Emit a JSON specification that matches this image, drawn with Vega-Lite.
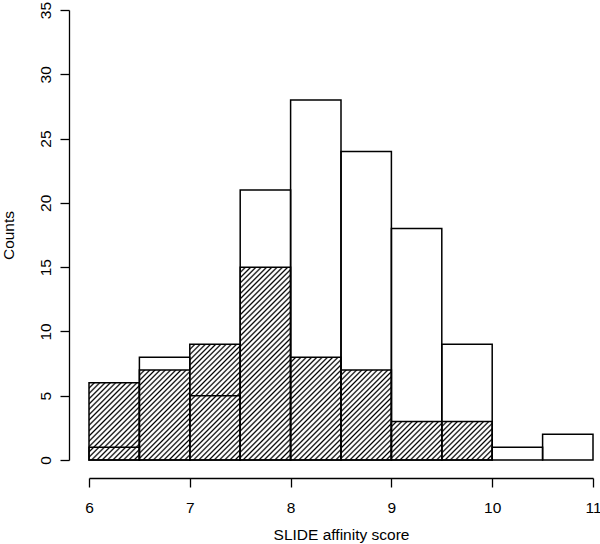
{
"$schema": "https://vega.github.io/schema/vega-lite/v6.json",
"width": 504,
"height": 450,
"autosize": {"type": "none"},
"padding": {"left": 89, "top": 10, "right": 7, "bottom": 84},
"background": "white",
"config": {"view": {"stroke": null}, "font": "Liberation Sans"},
"data": {"values": [
{"series": "open", "start": 6.0, "end": 6.5, "count": 1},
{"series": "open", "start": 6.5, "end": 7.0, "count": 8},
{"series": "open", "start": 7.0, "end": 7.5, "count": 5},
{"series": "open", "start": 7.5, "end": 8.0, "count": 21},
{"series": "open", "start": 8.0, "end": 8.5, "count": 28},
{"series": "open", "start": 8.5, "end": 9.0, "count": 24},
{"series": "open", "start": 9.0, "end": 9.5, "count": 18},
{"series": "open", "start": 9.5, "end": 10.0, "count": 9},
{"series": "open", "start": 10.0, "end": 10.5, "count": 1},
{"series": "open", "start": 10.5, "end": 11.0, "count": 2},
{"series": "hatched", "start": 6.0, "end": 6.5, "count": 6},
{"series": "hatched", "start": 6.5, "end": 7.0, "count": 7},
{"series": "hatched", "start": 7.0, "end": 7.5, "count": 9},
{"series": "hatched", "start": 7.5, "end": 8.0, "count": 15},
{"series": "hatched", "start": 8.0, "end": 8.5, "count": 8},
{"series": "hatched", "start": 8.5, "end": 9.0, "count": 7},
{"series": "hatched", "start": 9.0, "end": 9.5, "count": 3},
{"series": "hatched", "start": 9.5, "end": 10.0, "count": 3},
{"series": "hatched", "start": 10.0, "end": 10.5, "count": 0},
{"series": "hatched", "start": 10.5, "end": 11.0, "count": 0}
]},
"encoding": {
"x": {"field": "start", "type": "quantitative", "scale": {"domain": [6, 11], "nice": false, "zero": false},
 "axis": {"values": [6, 7, 8, 9, 10, 11], "format": "d", "offset": 18, "grid": false, "tickSize": 9, "labelPadding": 13, "labelFontSize": 15.5, "labelColor": "black", "labelFont": "Liberation Sans", "domainColor": "black", "tickColor": "black", "domainWidth": 1.3, "tickWidth": 1.3, "title": "SLIDE affinity score", "titleFontSize": 15.5, "titleFontWeight": "normal", "titleColor": "black", "titleFont": "Liberation Sans", "titlePadding": 12, "labelFlush": false, "labelOverlap": false}},
"x2": {"field": "end"},
"y": {"field": "count", "type": "quantitative", "scale": {"domain": [0, 35], "nice": false},
 "axis": {"values": [0, 5, 10, 15, 20, 25, 30, 35], "offset": 20, "grid": false, "tickSize": 9, "labelPadding": 10, "labelAngle": -90, "labelAlign": "center", "labelBaseline": "alphabetic", "labelFontSize": 15.5, "labelColor": "black", "labelFont": "Liberation Sans", "domainColor": "black", "tickColor": "black", "domainWidth": 1.3, "tickWidth": 1.3, "title": "Counts", "titleFontSize": 15.5, "titleFontWeight": "normal", "titleColor": "black", "titleFont": "Liberation Sans", "titlePadding": 22, "labelFlush": false, "labelOverlap": false}},
"y2": {"datum": 0}
},
"layer": [
{
"transform": [{"filter": "datum.series == 'hatched' && datum.count > 0"}],
"mark": {"type": "bar", "stroke": "black", "strokeWidth": 1.5},
"encoding": {
"fill": {"condition": [
{"test": "datum.count == 3", "value": {"gradient": "linear", "x1": 0, "y1": 0, "x2": 1.1133, "y2": 0.852, "stops": [
{"offset":0,"color":"#000"},{"offset":0.0194,"color":"#fff"},{"offset":0.0394,"color":"#fff"},{"offset":0.0588,"color":"#000"},{"offset":0.0782,"color":"#fff"},{"offset":0.0982,"color":"#fff"},{"offset":0.1176,"color":"#000"},{"offset":0.1371,"color":"#fff"},{"offset":0.1571,"color":"#fff"},{"offset":0.1765,"color":"#000"},{"offset":0.1959,"color":"#fff"},{"offset":0.2159,"color":"#fff"},{"offset":0.2353,"color":"#000"},{"offset":0.2547,"color":"#fff"},{"offset":0.2747,"color":"#fff"},{"offset":0.2941,"color":"#000"},{"offset":0.3135,"color":"#fff"},{"offset":0.3335,"color":"#fff"},{"offset":0.3529,"color":"#000"},{"offset":0.3724,"color":"#fff"},{"offset":0.3924,"color":"#fff"},{"offset":0.4118,"color":"#000"},{"offset":0.4312,"color":"#fff"},{"offset":0.4512,"color":"#fff"},{"offset":0.4706,"color":"#000"},{"offset":0.49,"color":"#fff"},{"offset":0.51,"color":"#fff"},{"offset":0.5294,"color":"#000"},{"offset":0.5488,"color":"#fff"},{"offset":0.5688,"color":"#fff"},{"offset":0.5882,"color":"#000"},{"offset":0.6076,"color":"#fff"},{"offset":0.6276,"color":"#fff"},{"offset":0.6471,"color":"#000"},{"offset":0.6665,"color":"#fff"},{"offset":0.6865,"color":"#fff"},{"offset":0.7059,"color":"#000"},{"offset":0.7253,"color":"#fff"},{"offset":0.7453,"color":"#fff"},{"offset":0.7647,"color":"#000"},{"offset":0.7841,"color":"#fff"},{"offset":0.8041,"color":"#fff"},{"offset":0.8235,"color":"#000"},{"offset":0.8429,"color":"#fff"},{"offset":0.8629,"color":"#fff"},{"offset":0.8824,"color":"#000"},{"offset":0.9018,"color":"#fff"},{"offset":0.9218,"color":"#fff"},{"offset":0.9412,"color":"#000"},{"offset":0.9606,"color":"#fff"},{"offset":0.9806,"color":"#fff"},{"offset":1,"color":"#000"}]}},
{"test": "datum.count == 6", "value": {"gradient": "linear", "x1": 0, "y1": 0, "x2": 0.757, "y2": 1.1587, "stops": [
{"offset":0,"color":"#000"},{"offset":0.0138,"color":"#fff"},{"offset":0.0279,"color":"#fff"},{"offset":0.0417,"color":"#000"},{"offset":0.0554,"color":"#fff"},{"offset":0.0696,"color":"#fff"},{"offset":0.0833,"color":"#000"},{"offset":0.0971,"color":"#fff"},{"offset":0.1113,"color":"#fff"},{"offset":0.125,"color":"#000"},{"offset":0.1388,"color":"#fff"},{"offset":0.1529,"color":"#fff"},{"offset":0.1667,"color":"#000"},{"offset":0.1804,"color":"#fff"},{"offset":0.1946,"color":"#fff"},{"offset":0.2083,"color":"#000"},{"offset":0.2221,"color":"#fff"},{"offset":0.2363,"color":"#fff"},{"offset":0.25,"color":"#000"},{"offset":0.2638,"color":"#fff"},{"offset":0.2779,"color":"#fff"},{"offset":0.2917,"color":"#000"},{"offset":0.3054,"color":"#fff"},{"offset":0.3196,"color":"#fff"},{"offset":0.3333,"color":"#000"},{"offset":0.3471,"color":"#fff"},{"offset":0.3613,"color":"#fff"},{"offset":0.375,"color":"#000"},{"offset":0.3888,"color":"#fff"},{"offset":0.4029,"color":"#fff"},{"offset":0.4167,"color":"#000"},{"offset":0.4304,"color":"#fff"},{"offset":0.4446,"color":"#fff"},{"offset":0.4583,"color":"#000"},{"offset":0.4721,"color":"#fff"},{"offset":0.4863,"color":"#fff"},{"offset":0.5,"color":"#000"},{"offset":0.5138,"color":"#fff"},{"offset":0.5279,"color":"#fff"},{"offset":0.5417,"color":"#000"},{"offset":0.5554,"color":"#fff"},{"offset":0.5696,"color":"#fff"},{"offset":0.5833,"color":"#000"},{"offset":0.5971,"color":"#fff"},{"offset":0.6113,"color":"#fff"},{"offset":0.625,"color":"#000"},{"offset":0.6388,"color":"#fff"},{"offset":0.6529,"color":"#fff"},{"offset":0.6667,"color":"#000"},{"offset":0.6804,"color":"#fff"},{"offset":0.6946,"color":"#fff"},{"offset":0.7083,"color":"#000"},{"offset":0.7221,"color":"#fff"},{"offset":0.7363,"color":"#fff"},{"offset":0.75,"color":"#000"},{"offset":0.7638,"color":"#fff"},{"offset":0.7779,"color":"#fff"},{"offset":0.7917,"color":"#000"},{"offset":0.8054,"color":"#fff"},{"offset":0.8196,"color":"#fff"},{"offset":0.8333,"color":"#000"},{"offset":0.8471,"color":"#fff"},{"offset":0.8613,"color":"#fff"},{"offset":0.875,"color":"#000"},{"offset":0.8888,"color":"#fff"},{"offset":0.9029,"color":"#fff"},{"offset":0.9167,"color":"#000"},{"offset":0.9304,"color":"#fff"},{"offset":0.9446,"color":"#fff"},{"offset":0.9583,"color":"#000"},{"offset":0.9721,"color":"#fff"},{"offset":0.9863,"color":"#fff"},{"offset":1,"color":"#000"}]}},
{"test": "datum.count == 7", "value": {"gradient": "linear", "x1": 0, "y1": 0, "x2": 0.665, "y2": 1.1876, "stops": [
{"offset":0,"color":"#000"},{"offset":0.0122,"color":"#fff"},{"offset":0.0248,"color":"#fff"},{"offset":0.037,"color":"#000"},{"offset":0.0493,"color":"#fff"},{"offset":0.0619,"color":"#fff"},{"offset":0.0741,"color":"#000"},{"offset":0.0863,"color":"#fff"},{"offset":0.0989,"color":"#fff"},{"offset":0.1111,"color":"#000"},{"offset":0.1233,"color":"#fff"},{"offset":0.1359,"color":"#fff"},{"offset":0.1481,"color":"#000"},{"offset":0.1604,"color":"#fff"},{"offset":0.173,"color":"#fff"},{"offset":0.1852,"color":"#000"},{"offset":0.1974,"color":"#fff"},{"offset":0.21,"color":"#fff"},{"offset":0.2222,"color":"#000"},{"offset":0.2344,"color":"#fff"},{"offset":0.247,"color":"#fff"},{"offset":0.2593,"color":"#000"},{"offset":0.2715,"color":"#fff"},{"offset":0.2841,"color":"#fff"},{"offset":0.2963,"color":"#000"},{"offset":0.3085,"color":"#fff"},{"offset":0.3211,"color":"#fff"},{"offset":0.3333,"color":"#000"},{"offset":0.3456,"color":"#fff"},{"offset":0.3581,"color":"#fff"},{"offset":0.3704,"color":"#000"},{"offset":0.3826,"color":"#fff"},{"offset":0.3952,"color":"#fff"},{"offset":0.4074,"color":"#000"},{"offset":0.4196,"color":"#fff"},{"offset":0.4322,"color":"#fff"},{"offset":0.4444,"color":"#000"},{"offset":0.4567,"color":"#fff"},{"offset":0.4693,"color":"#fff"},{"offset":0.4815,"color":"#000"},{"offset":0.4937,"color":"#fff"},{"offset":0.5063,"color":"#fff"},{"offset":0.5185,"color":"#000"},{"offset":0.5307,"color":"#fff"},{"offset":0.5433,"color":"#fff"},{"offset":0.5556,"color":"#000"},{"offset":0.5678,"color":"#fff"},{"offset":0.5804,"color":"#fff"},{"offset":0.5926,"color":"#000"},{"offset":0.6048,"color":"#fff"},{"offset":0.6174,"color":"#fff"},{"offset":0.6296,"color":"#000"},{"offset":0.6419,"color":"#fff"},{"offset":0.6544,"color":"#fff"},{"offset":0.6667,"color":"#000"},{"offset":0.6789,"color":"#fff"},{"offset":0.6915,"color":"#fff"},{"offset":0.7037,"color":"#000"},{"offset":0.7159,"color":"#fff"},{"offset":0.7285,"color":"#fff"},{"offset":0.7407,"color":"#000"},{"offset":0.753,"color":"#fff"},{"offset":0.7656,"color":"#fff"},{"offset":0.7778,"color":"#000"},{"offset":0.79,"color":"#fff"},{"offset":0.8026,"color":"#fff"},{"offset":0.8148,"color":"#000"},{"offset":0.827,"color":"#fff"},{"offset":0.8396,"color":"#fff"},{"offset":0.8519,"color":"#000"},{"offset":0.8641,"color":"#fff"},{"offset":0.8767,"color":"#fff"},{"offset":0.8889,"color":"#000"},{"offset":0.9011,"color":"#fff"},{"offset":0.9137,"color":"#fff"},{"offset":0.9259,"color":"#000"},{"offset":0.9381,"color":"#fff"},{"offset":0.9507,"color":"#fff"},{"offset":0.963,"color":"#000"},{"offset":0.9752,"color":"#fff"},{"offset":0.9878,"color":"#fff"},{"offset":1,"color":"#000"}]}},
{"test": "datum.count == 8", "value": {"gradient": "linear", "x1": 0, "y1": 0, "x2": 0.5887, "y2": 1.2015, "stops": [
{"offset":0,"color":"#000"},{"offset":0.0114,"color":"#fff"},{"offset":0.0231,"color":"#fff"},{"offset":0.0345,"color":"#000"},{"offset":0.0459,"color":"#fff"},{"offset":0.0576,"color":"#fff"},{"offset":0.069,"color":"#000"},{"offset":0.0803,"color":"#fff"},{"offset":0.0921,"color":"#fff"},{"offset":0.1034,"color":"#000"},{"offset":0.1148,"color":"#fff"},{"offset":0.1266,"color":"#fff"},{"offset":0.1379,"color":"#000"},{"offset":0.1493,"color":"#fff"},{"offset":0.161,"color":"#fff"},{"offset":0.1724,"color":"#000"},{"offset":0.1838,"color":"#fff"},{"offset":0.1955,"color":"#fff"},{"offset":0.2069,"color":"#000"},{"offset":0.2183,"color":"#fff"},{"offset":0.23,"color":"#fff"},{"offset":0.2414,"color":"#000"},{"offset":0.2528,"color":"#fff"},{"offset":0.2645,"color":"#fff"},{"offset":0.2759,"color":"#000"},{"offset":0.2872,"color":"#fff"},{"offset":0.299,"color":"#fff"},{"offset":0.3103,"color":"#000"},{"offset":0.3217,"color":"#fff"},{"offset":0.3334,"color":"#fff"},{"offset":0.3448,"color":"#000"},{"offset":0.3562,"color":"#fff"},{"offset":0.3679,"color":"#fff"},{"offset":0.3793,"color":"#000"},{"offset":0.3907,"color":"#fff"},{"offset":0.4024,"color":"#fff"},{"offset":0.4138,"color":"#000"},{"offset":0.4252,"color":"#fff"},{"offset":0.4369,"color":"#fff"},{"offset":0.4483,"color":"#000"},{"offset":0.4597,"color":"#fff"},{"offset":0.4714,"color":"#fff"},{"offset":0.4828,"color":"#000"},{"offset":0.4941,"color":"#fff"},{"offset":0.5059,"color":"#fff"},{"offset":0.5172,"color":"#000"},{"offset":0.5286,"color":"#fff"},{"offset":0.5403,"color":"#fff"},{"offset":0.5517,"color":"#000"},{"offset":0.5631,"color":"#fff"},{"offset":0.5748,"color":"#fff"},{"offset":0.5862,"color":"#000"},{"offset":0.5976,"color":"#fff"},{"offset":0.6093,"color":"#fff"},{"offset":0.6207,"color":"#000"},{"offset":0.6321,"color":"#fff"},{"offset":0.6438,"color":"#fff"},{"offset":0.6552,"color":"#000"},{"offset":0.6666,"color":"#fff"},{"offset":0.6783,"color":"#fff"},{"offset":0.6897,"color":"#000"},{"offset":0.701,"color":"#fff"},{"offset":0.7128,"color":"#fff"},{"offset":0.7241,"color":"#000"},{"offset":0.7355,"color":"#fff"},{"offset":0.7472,"color":"#fff"},{"offset":0.7586,"color":"#000"},{"offset":0.77,"color":"#fff"},{"offset":0.7817,"color":"#fff"},{"offset":0.7931,"color":"#000"},{"offset":0.8045,"color":"#fff"},{"offset":0.8162,"color":"#fff"},{"offset":0.8276,"color":"#000"},{"offset":0.839,"color":"#fff"},{"offset":0.8507,"color":"#fff"},{"offset":0.8621,"color":"#000"},{"offset":0.8734,"color":"#fff"},{"offset":0.8852,"color":"#fff"},{"offset":0.8966,"color":"#000"},{"offset":0.9079,"color":"#fff"},{"offset":0.9197,"color":"#fff"},{"offset":0.931,"color":"#000"},{"offset":0.9424,"color":"#fff"},{"offset":0.9541,"color":"#fff"},{"offset":0.9655,"color":"#000"},{"offset":0.9769,"color":"#fff"},{"offset":0.9886,"color":"#fff"},{"offset":1,"color":"#000"}]}},
{"test": "datum.count == 9", "value": {"gradient": "linear", "x1": 0, "y1": 0, "x2": 0.5256, "y2": 1.2066, "stops": [
{"offset":0,"color":"#000"},{"offset":0.0103,"color":"#fff"},{"offset":0.0209,"color":"#fff"},{"offset":0.0313,"color":"#000"},{"offset":0.0416,"color":"#fff"},{"offset":0.0522,"color":"#fff"},{"offset":0.0625,"color":"#000"},{"offset":0.0728,"color":"#fff"},{"offset":0.0834,"color":"#fff"},{"offset":0.0938,"color":"#000"},{"offset":0.1041,"color":"#fff"},{"offset":0.1147,"color":"#fff"},{"offset":0.125,"color":"#000"},{"offset":0.1353,"color":"#fff"},{"offset":0.1459,"color":"#fff"},{"offset":0.1563,"color":"#000"},{"offset":0.1666,"color":"#fff"},{"offset":0.1772,"color":"#fff"},{"offset":0.1875,"color":"#000"},{"offset":0.1978,"color":"#fff"},{"offset":0.2084,"color":"#fff"},{"offset":0.2188,"color":"#000"},{"offset":0.2291,"color":"#fff"},{"offset":0.2397,"color":"#fff"},{"offset":0.25,"color":"#000"},{"offset":0.2603,"color":"#fff"},{"offset":0.2709,"color":"#fff"},{"offset":0.2813,"color":"#000"},{"offset":0.2916,"color":"#fff"},{"offset":0.3022,"color":"#fff"},{"offset":0.3125,"color":"#000"},{"offset":0.3228,"color":"#fff"},{"offset":0.3334,"color":"#fff"},{"offset":0.3438,"color":"#000"},{"offset":0.3541,"color":"#fff"},{"offset":0.3647,"color":"#fff"},{"offset":0.375,"color":"#000"},{"offset":0.3853,"color":"#fff"},{"offset":0.3959,"color":"#fff"},{"offset":0.4063,"color":"#000"},{"offset":0.4166,"color":"#fff"},{"offset":0.4272,"color":"#fff"},{"offset":0.4375,"color":"#000"},{"offset":0.4478,"color":"#fff"},{"offset":0.4584,"color":"#fff"},{"offset":0.4688,"color":"#000"},{"offset":0.4791,"color":"#fff"},{"offset":0.4897,"color":"#fff"},{"offset":0.5,"color":"#000"},{"offset":0.5103,"color":"#fff"},{"offset":0.5209,"color":"#fff"},{"offset":0.5313,"color":"#000"},{"offset":0.5416,"color":"#fff"},{"offset":0.5522,"color":"#fff"},{"offset":0.5625,"color":"#000"},{"offset":0.5728,"color":"#fff"},{"offset":0.5834,"color":"#fff"},{"offset":0.5938,"color":"#000"},{"offset":0.6041,"color":"#fff"},{"offset":0.6147,"color":"#fff"},{"offset":0.625,"color":"#000"},{"offset":0.6353,"color":"#fff"},{"offset":0.6459,"color":"#fff"},{"offset":0.6563,"color":"#000"},{"offset":0.6666,"color":"#fff"},{"offset":0.6772,"color":"#fff"},{"offset":0.6875,"color":"#000"},{"offset":0.6978,"color":"#fff"},{"offset":0.7084,"color":"#fff"},{"offset":0.7188,"color":"#000"},{"offset":0.7291,"color":"#fff"},{"offset":0.7397,"color":"#fff"},{"offset":0.75,"color":"#000"},{"offset":0.7603,"color":"#fff"},{"offset":0.7709,"color":"#fff"},{"offset":0.7813,"color":"#000"},{"offset":0.7916,"color":"#fff"},{"offset":0.8022,"color":"#fff"},{"offset":0.8125,"color":"#000"},{"offset":0.8228,"color":"#fff"},{"offset":0.8334,"color":"#fff"},{"offset":0.8438,"color":"#000"},{"offset":0.8541,"color":"#fff"},{"offset":0.8647,"color":"#fff"},{"offset":0.875,"color":"#000"},{"offset":0.8853,"color":"#fff"},{"offset":0.8959,"color":"#fff"},{"offset":0.9063,"color":"#000"},{"offset":0.9166,"color":"#fff"},{"offset":0.9272,"color":"#fff"},{"offset":0.9375,"color":"#000"},{"offset":0.9478,"color":"#fff"},{"offset":0.9584,"color":"#fff"},{"offset":0.9688,"color":"#000"},{"offset":0.9791,"color":"#fff"},{"offset":0.9897,"color":"#fff"},{"offset":1,"color":"#000"}]}},
{"test": "datum.count == 15", "value": {"gradient": "linear", "x1": 0, "y1": 0, "x2": 0.3086, "y2": 1.1807, "stops": [
{"offset":0,"color":"#000"},{"offset":0.0072,"color":"#fff"},{"offset":0.0146,"color":"#fff"},{"offset":0.0217,"color":"#000"},{"offset":0.0289,"color":"#fff"},{"offset":0.0363,"color":"#fff"},{"offset":0.0435,"color":"#000"},{"offset":0.0507,"color":"#fff"},{"offset":0.058,"color":"#fff"},{"offset":0.0652,"color":"#000"},{"offset":0.0724,"color":"#fff"},{"offset":0.0798,"color":"#fff"},{"offset":0.087,"color":"#000"},{"offset":0.0941,"color":"#fff"},{"offset":0.1015,"color":"#fff"},{"offset":0.1087,"color":"#000"},{"offset":0.1159,"color":"#fff"},{"offset":0.1233,"color":"#fff"},{"offset":0.1304,"color":"#000"},{"offset":0.1376,"color":"#fff"},{"offset":0.145,"color":"#fff"},{"offset":0.1522,"color":"#000"},{"offset":0.1593,"color":"#fff"},{"offset":0.1667,"color":"#fff"},{"offset":0.1739,"color":"#000"},{"offset":0.1811,"color":"#fff"},{"offset":0.1885,"color":"#fff"},{"offset":0.1957,"color":"#000"},{"offset":0.2028,"color":"#fff"},{"offset":0.2102,"color":"#fff"},{"offset":0.2174,"color":"#000"},{"offset":0.2246,"color":"#fff"},{"offset":0.232,"color":"#fff"},{"offset":0.2391,"color":"#000"},{"offset":0.2463,"color":"#fff"},{"offset":0.2537,"color":"#fff"},{"offset":0.2609,"color":"#000"},{"offset":0.268,"color":"#fff"},{"offset":0.2754,"color":"#fff"},{"offset":0.2826,"color":"#000"},{"offset":0.2898,"color":"#fff"},{"offset":0.2972,"color":"#fff"},{"offset":0.3043,"color":"#000"},{"offset":0.3115,"color":"#fff"},{"offset":0.3189,"color":"#fff"},{"offset":0.3261,"color":"#000"},{"offset":0.3333,"color":"#fff"},{"offset":0.3407,"color":"#fff"},{"offset":0.3478,"color":"#000"},{"offset":0.355,"color":"#fff"},{"offset":0.3624,"color":"#fff"},{"offset":0.3696,"color":"#000"},{"offset":0.3767,"color":"#fff"},{"offset":0.3841,"color":"#fff"},{"offset":0.3913,"color":"#000"},{"offset":0.3985,"color":"#fff"},{"offset":0.4059,"color":"#fff"},{"offset":0.413,"color":"#000"},{"offset":0.4202,"color":"#fff"},{"offset":0.4276,"color":"#fff"},{"offset":0.4348,"color":"#000"},{"offset":0.442,"color":"#fff"},{"offset":0.4493,"color":"#fff"},{"offset":0.4565,"color":"#000"},{"offset":0.4637,"color":"#fff"},{"offset":0.4711,"color":"#fff"},{"offset":0.4783,"color":"#000"},{"offset":0.4854,"color":"#fff"},{"offset":0.4928,"color":"#fff"},{"offset":0.5,"color":"#000"},{"offset":0.5072,"color":"#fff"},{"offset":0.5146,"color":"#fff"},{"offset":0.5217,"color":"#000"},{"offset":0.5289,"color":"#fff"},{"offset":0.5363,"color":"#fff"},{"offset":0.5435,"color":"#000"},{"offset":0.5507,"color":"#fff"},{"offset":0.558,"color":"#fff"},{"offset":0.5652,"color":"#000"},{"offset":0.5724,"color":"#fff"},{"offset":0.5798,"color":"#fff"},{"offset":0.587,"color":"#000"},{"offset":0.5941,"color":"#fff"},{"offset":0.6015,"color":"#fff"},{"offset":0.6087,"color":"#000"},{"offset":0.6159,"color":"#fff"},{"offset":0.6233,"color":"#fff"},{"offset":0.6304,"color":"#000"},{"offset":0.6376,"color":"#fff"},{"offset":0.645,"color":"#fff"},{"offset":0.6522,"color":"#000"},{"offset":0.6593,"color":"#fff"},{"offset":0.6667,"color":"#fff"},{"offset":0.6739,"color":"#000"},{"offset":0.6811,"color":"#fff"},{"offset":0.6885,"color":"#fff"},{"offset":0.6957,"color":"#000"},{"offset":0.7028,"color":"#fff"},{"offset":0.7102,"color":"#fff"},{"offset":0.7174,"color":"#000"},{"offset":0.7246,"color":"#fff"},{"offset":0.732,"color":"#fff"},{"offset":0.7391,"color":"#000"},{"offset":0.7463,"color":"#fff"},{"offset":0.7537,"color":"#fff"},{"offset":0.7609,"color":"#000"},{"offset":0.768,"color":"#fff"},{"offset":0.7754,"color":"#fff"},{"offset":0.7826,"color":"#000"},{"offset":0.7898,"color":"#fff"},{"offset":0.7972,"color":"#fff"},{"offset":0.8043,"color":"#000"},{"offset":0.8115,"color":"#fff"},{"offset":0.8189,"color":"#fff"},{"offset":0.8261,"color":"#000"},{"offset":0.8333,"color":"#fff"},{"offset":0.8407,"color":"#fff"},{"offset":0.8478,"color":"#000"},{"offset":0.855,"color":"#fff"},{"offset":0.8624,"color":"#fff"},{"offset":0.8696,"color":"#000"},{"offset":0.8767,"color":"#fff"},{"offset":0.8841,"color":"#fff"},{"offset":0.8913,"color":"#000"},{"offset":0.8985,"color":"#fff"},{"offset":0.9059,"color":"#fff"},{"offset":0.913,"color":"#000"},{"offset":0.9202,"color":"#fff"},{"offset":0.9276,"color":"#fff"},{"offset":0.9348,"color":"#000"},{"offset":0.942,"color":"#fff"},{"offset":0.9493,"color":"#fff"},{"offset":0.9565,"color":"#000"},{"offset":0.9637,"color":"#fff"},{"offset":0.9711,"color":"#fff"},{"offset":0.9783,"color":"#000"},{"offset":0.9854,"color":"#fff"},{"offset":0.9928,"color":"#fff"},{"offset":1,"color":"#000"}]}}
], "value": "white"}
}
},
{
"transform": [{"filter": "datum.series == 'open'"}],
"mark": {"type": "bar", "fill": "white", "fillOpacity": 0, "stroke": "black", "strokeWidth": 1.5}
}
]
}
